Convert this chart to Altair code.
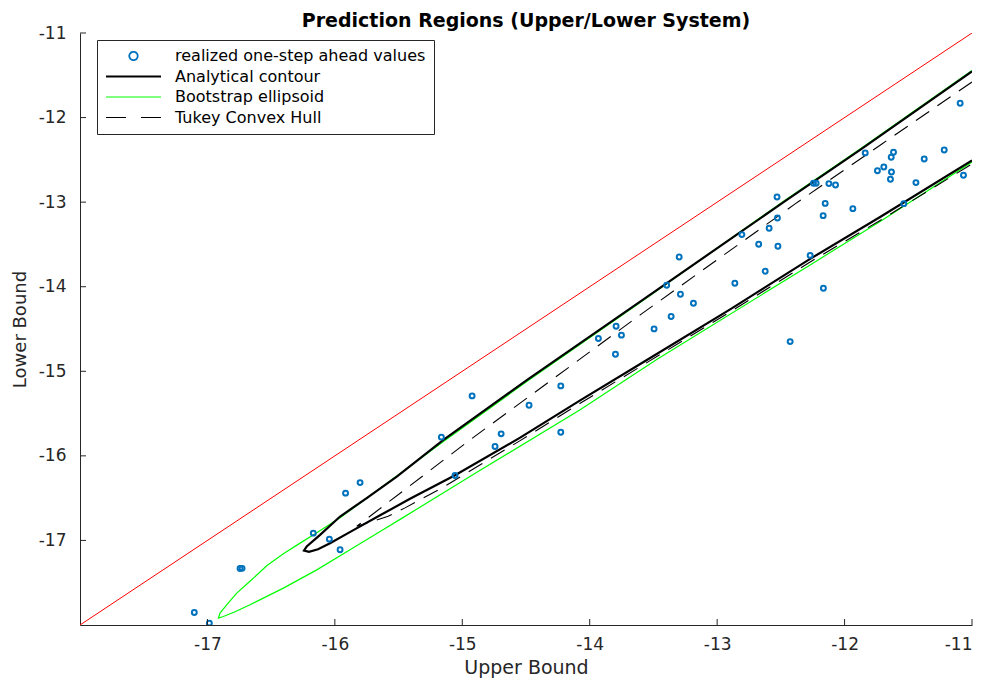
import altair as alt
import pandas as pd

# ---------------- data ----------------
legend_labels = ["realized one-step ahead values", "Analytical contour",
                 "Bootstrap ellipsoid", "Tukey Convex Hull"]

obs_upper = [-17.103, -16.985, -16.744, -16.728, -16.169, -16.043, -15.959, -15.916,
             -15.802, -15.164, -15.057, -14.923, -14.743, -14.695, -14.476, -14.227,
             -14.227, -13.932, -13.798, -13.793, -13.751, -13.495, -13.396, -13.361,
             -13.298, -13.288, -13.186, -12.861, -12.806, -12.674, -12.623, -12.592,
             -12.530, -12.527, -12.523, -12.427, -12.270, -12.244, -12.223, -12.168,
             -12.166, -12.152, -12.123, -12.071, -11.935, -11.838, -11.742, -11.692,
             -11.640, -11.634, -11.632, -11.616, -11.535, -11.440, -11.375, -11.218,
             -11.093, -11.067]
obs_lower = [-17.852, -17.978, -17.332, -17.330, -16.914, -16.985, -17.111, -16.441,
             -16.316, -15.779, -16.233, -15.291, -15.890, -15.740, -15.401, -15.173,
             -15.720, -14.613, -14.798, -14.467, -14.573, -14.499, -13.982, -14.353,
             -13.648, -14.089, -14.195, -13.959, -13.384, -13.498, -13.817, -13.309,
             -12.939, -13.187, -13.521, -14.649, -13.630, -12.777, -12.777, -13.160,
             -14.018, -13.015, -12.781, -12.797, -13.077, -12.418, -12.628, -12.584,
             -12.729, -12.469, -12.643, -12.410, -13.018, -12.769, -12.489, -12.383,
             -11.831, -12.682]

analytical_x = [-11.000, -11.878, -12.453, -13.604, -14.491, -15.148, -15.514, -15.750,
                -15.959, -16.116, -16.221, -16.242,
                -16.203, -16.132, -16.038, -15.865, -15.645, -15.410, -15.057, -14.546,
                -14.075, -13.542, -12.898, -12.270, -11.721, -11.000]
analytical_y = [-11.455, -12.383, -12.974, -14.176, -15.102, -15.811, -16.245, -16.500,
                -16.717, -16.934, -17.072, -17.119,
                -17.135, -17.105, -17.034, -16.887, -16.703, -16.508, -16.230, -15.785,
                -15.344, -14.857, -14.268, -13.671, -13.175, -12.507]

bootstrap_x = [-11.000, -11.878, -12.453, -13.604, -14.491, -15.148, -15.959, -16.142,
               -16.273, -16.404, -16.535, -16.666, -16.770, -16.849, -16.901, -16.914,
               -16.875, -16.783, -16.666, -16.404, -16.142, -15.881, -15.622, -15.488,
               -14.860, -14.075, -13.471, -12.270, -11.721, -11.000]
bootstrap_y = [-11.443, -12.371, -12.962, -14.186, -15.119, -15.829, -16.733, -16.910,
               -17.032, -17.158, -17.300, -17.483, -17.623, -17.761, -17.859, -17.918,
               -17.899, -17.844, -17.761, -17.564, -17.348, -17.111, -16.875, -16.751,
               -16.171, -15.456, -14.857, -13.742, -13.228, -12.525]

tukey_x = [-11.000, -11.707, -12.388, -13.604, -14.939, -15.828,
           -15.582, -15.449, -15.151, -14.546, -14.075, -13.542, -12.898, -12.270,
           -11.721, -11.000]
tukey_y = [-11.579, -12.312, -13.021, -14.333, -15.811, -16.833,
           -16.715, -16.615, -16.372, -15.820, -15.379, -14.889, -14.298, -13.707,
           -13.216, -12.548]

diag_vals = [-18, -11]
tick_vals = [-17, -16, -15, -14, -13, -12, -11]
axis_domain = [-18, -11]

# ---------------- tables ----------------
pts = pd.DataFrame({"x": obs_upper, "y": obs_lower})
diag = pd.DataFrame({"x": diag_vals, "y": diag_vals})


def contour(xs, ys):
    return pd.DataFrame({"x": xs, "y": ys, "ord": list(range(len(xs)))})


ana = contour(analytical_x, analytical_y)
boot = contour(bootstrap_x, bootstrap_y)
tuk = contour(tukey_x, tukey_y)
leg = pd.DataFrame({"series": legend_labels, "x": [None] * 4, "y": [None] * 4})
xt = pd.DataFrame({"x": tick_vals})
yt = pd.DataFrame({"y": tick_vals})

W, H = 892, 592
FONT = "DejaVu Sans"
AX = "#262626"

X = alt.X("x:Q", scale=alt.Scale(domain=axis_domain, nice=False, zero=False),
          axis=alt.Axis(values=tick_vals, labelExpr="'' + datum.value", tickSize=0,
                        grid=False, labelPadding=11, titlePadding=6,
                        labelFontSize=17, titleFontSize=19),
          title="Upper Bound")
Y = alt.Y("y:Q", scale=alt.Scale(domain=axis_domain, nice=False, zero=False),
          axis=alt.Axis(values=tick_vals, labelExpr="'' + datum.value", tickSize=0,
                        grid=False, labelPadding=14, titlePadding=9,
                        labelFontSize=17, titleFontSize=18),
          title="Lower Bound")

leg_def = alt.Legend(title=None, orient="none", legendX=17, legendY=7,
                     strokeColor=AX, fillColor="white", padding=8,
                     labelFont=FONT, labelFontSize=16, labelColor="black",
                     labelLimit=0, labelOffset=13, rowPadding=4.5, clipHeight=16,
                     cornerRadius=0)

red = alt.Chart(diag).mark_line(color="#FF0000", strokeWidth=1, clip=True).encode(x=X, y=Y)
green = alt.Chart(boot).mark_line(color="#00FF00", strokeWidth=1.2, clip=True).encode(
    x=X, y=Y, order="ord:Q")
dashed = alt.Chart(tuk).mark_line(color="black", strokeWidth=1.1, strokeDash=[16, 10],
                                  clip=True).encode(x=X, y=Y, order="ord:Q")
black = alt.Chart(ana).mark_line(color="black", strokeWidth=2.2, clip=True).encode(
    x=X, y=Y, order="ord:Q")
points = alt.Chart(pts).mark_point(filled=False, color="#0072BD", size=24,
                                   strokeWidth=2, opacity=1, clip=True).encode(x=X, y=Y)

legend_layer = alt.Chart(leg).transform_filter("false").mark_point(filled=False, opacity=1).encode(
    x=X, y=Y,
    color=alt.Color("series:N", scale=alt.Scale(domain=legend_labels,
                    range=["#0072BD", "#000000", "#00FF00", "#000000"]), legend=leg_def),
    shape=alt.Shape("series:N", scale=alt.Scale(domain=legend_labels,
                    range=["circle", "stroke", "stroke", "stroke"]), legend=leg_def),
    size=alt.Size("series:N", scale=alt.Scale(type="ordinal", domain=legend_labels,
                  range=[70, 3025, 3025, 3025]), legend=leg_def),
    strokeDash=alt.StrokeDash("series:N", scale=alt.Scale(domain=legend_labels,
                              range=[[1, 0], [1, 0], [1, 0], [20, 15]]), legend=leg_def),
    strokeWidth=alt.StrokeWidth("series:N", scale=alt.Scale(type="ordinal", domain=legend_labels,
                                range=[1.8, 2, 1.2, 1.1]), legend=leg_def),
)

xticks = alt.Chart(xt).mark_rule(color=AX, strokeWidth=1).encode(
    x=X, y=alt.value(H), y2=alt.value(H - 6))
yticks = alt.Chart(yt).mark_rule(color=AX, strokeWidth=1).encode(
    y=Y, x=alt.value(0), x2=alt.value(6))

chart = alt.layer(red, green, dashed, black, points, legend_layer, xticks, yticks).properties(
    width=W, height=H,
    title=alt.TitleParams("Prediction Regions (Upper/Lower System)", font=FONT,
                          fontSize=19, fontWeight="bold", color="black",
                          anchor="middle", offset=6, dy=13),
    autosize=alt.AutoSizeParams(type="none"),
    padding={"left": 80, "top": 33, "right": 11, "bottom": 58},
).configure_view(stroke=None).configure_axis(
    domainColor=AX, domainWidth=1, labelColor=AX, titleColor=AX,
    labelFont=FONT, titleFont=FONT, titleFontWeight="normal",
)

chart.save("out.html", embed_options={"renderer": "svg", "actions": False})
